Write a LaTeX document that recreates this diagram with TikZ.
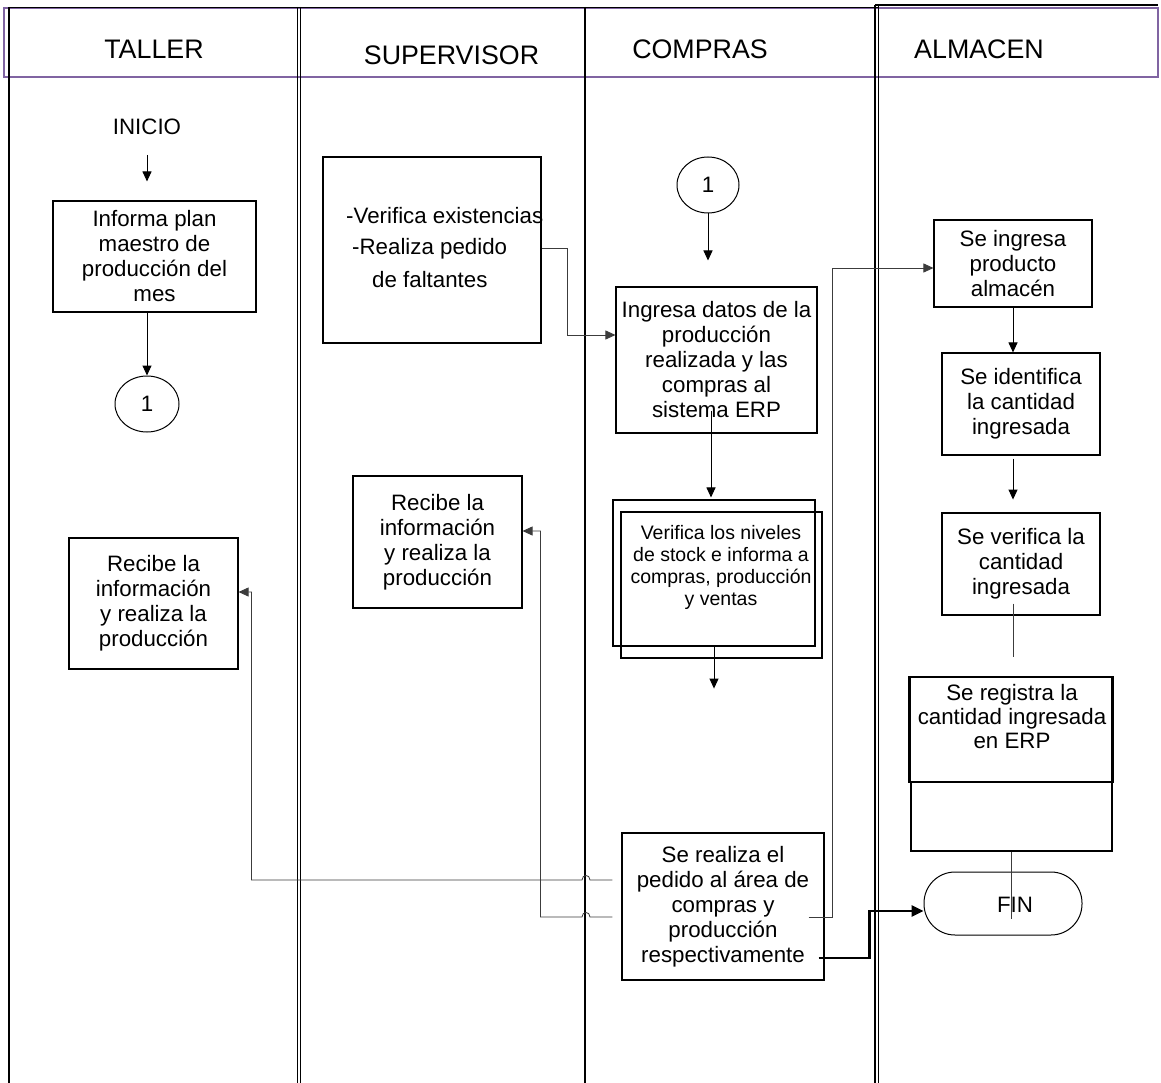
\documentclass[tikz,border=0pt]{standalone}
\usepackage{fontspec}
\setmainfont{Liberation Sans}
\usetikzlibrary{arrows.meta,shapes.geometric}
\definecolor{hdrpurple}{RGB}{128,100,162}
\definecolor{wire}{RGB}{60,60,60}

\begin{document}
\begin{tikzpicture}[x=1pt,y=-1pt,
  txt/.style={font=\fontsize{22.3}{25}\selectfont, align=center, inner sep=0pt},
  smalltxt/.style={font=\fontsize{19.5}{22}\selectfont, align=center, inner sep=0pt},
  hdr/.style={font=\fontsize{26.8}{30}\selectfont, inner sep=0pt},
  proc/.style={draw, line width=1.1pt, rectangle, inner sep=0pt,
               font=\fontsize{22.3}{25}\selectfont, align=center},
  conn/.style={draw, ellipse, line width=1pt, inner sep=0pt,
               font=\fontsize{22.3}{25}\selectfont},
  arr/.style={line width=1pt, -{Triangle[length=10pt,width=9pt]}},
  wirearr/.style={draw=wire, line width=0.8pt, -{Triangle[length=10pt,width=9pt]}},
  wire/.style={draw=wire, line width=0.8pt},
  lane/.style={line width=1.4pt},
]
\useasboundingbox (0,0) rectangle (1161,1083);
\fill[white] (0,0) rectangle (1161,1083);

% ---- swimlane frame ----
\draw[hdrpurple, line width=1.3pt] (4,8) rectangle (1158,77);
\draw[line width=1.2pt] (9,7.5) -- (878,7.5);
\draw[line width=2pt] (875,5) -- (1158,5);
\draw[lane] (9,7) -- (9,1083);
\draw[line width=0.9pt] (297,7) -- (297,1083);
\draw[line width=0.9pt] (300,7) -- (300,1083);
\draw[lane] (585,7) -- (585,1083);
\draw[lane] (875,5) -- (875,1083);
\draw[lane] (878.5,5) -- (878.5,1083);

% ---- lane titles ----
\node[hdr] (hTaller) at (154,49) {TALLER};
\node[hdr] (hSuper) at (451.5,55) {SUPERVISOR};
\node[hdr] (hCompras) at (700,49) {COMPRAS};
\node[hdr] (hAlmacen) at (979,49) {ALMACEN};

% ---- TALLER ----
\node[txt] (inicio) at (147,127) {INICIO};
\coordinate (inicioOut) at (147,155);
\node[proc, minimum width=203pt, minimum height=111pt] (informa) at (154.5,256.5)
  {Informa plan\\maestro de\\producción del\\mes};
\node[conn, minimum width=64pt, minimum height=56pt] (c1a) at (147,404) {1};
\node[proc, minimum width=169pt, minimum height=131pt] (recT) at (153.5,603.5)
  {Recibe la\\información\\y realiza la\\producción};

% ---- SUPERVISOR ----
\node[draw, line width=1.1pt, minimum width=218pt, minimum height=186pt, inner sep=0pt] (verif) at (432,250) {};
\node[txt, anchor=west] (verifA) at (346,216) {-Verifica existencias};
\node[txt, anchor=west] (verifB) at (352,249) {-Realiza pedido};
\node[txt, anchor=west] (verifC) at (372,280) {de faltantes};
\node[proc, minimum width=169pt, minimum height=132pt] (recS) at (437.5,542)
  {Recibe la\\información\\y realiza la\\producción};

% ---- COMPRAS ----
\node[conn, minimum width=62pt, minimum height=56pt] (c1b) at (708,185) {1};
\node[proc, minimum width=201pt, minimum height=146pt] (ingresa) at (716.5,360)
  {Ingresa datos de la\\producción\\realizada y las\\compras al\\sistema ERP};
\node[draw, line width=1.1pt, minimum width=202pt, minimum height=146pt, inner sep=0pt] (vb1) at (714,573) {};
\node[draw, line width=1.1pt, minimum width=201pt, minimum height=146pt, inner sep=0pt] (vb2) at (721.5,585) {};
\node[smalltxt] (vbT) at (721,567)
  {Verifica los niveles\\de stock e informa a\\compras, producción\\y ventas};
\node[proc, minimum width=202pt, minimum height=147pt] (pedido) at (723,906.5)
  {Se realiza el\\pedido al área de\\compras y\\producción\\respectivamente};

% ---- ALMACEN ----
\node[proc, minimum width=158pt, minimum height=87pt] (ingProd) at (1013,263.5)
  {Se ingresa\\producto\\almacén};
\node[proc, minimum width=158pt, minimum height=102pt] (ident) at (1021,404)
  {Se identifica\\la cantidad\\ingresada};
\node[proc, minimum width=158pt, minimum height=102pt] (verCant) at (1021,564)
  {Se verifica la\\cantidad\\ingresada};
\node[draw, line width=2.8pt, minimum width=203pt, minimum height=105pt, inner sep=0pt] (reg) at (1011,729.5) {};
\node[draw, line width=2pt, minimum width=201pt, minimum height=69pt, inner sep=0pt] (regB) at (1011.5,816.5) {};
\node[txt, font=\fontsize{22.3}{24}\selectfont] (regT) at (1012,717)
  {Se registra la\\cantidad ingresada\\en ERP};
\node[draw, line width=1pt, rounded corners=31pt, minimum width=158pt, minimum height=63pt, inner sep=0pt] (fin) at (1003,903.5) {};
\node[txt] (finT) at (1015,905) {FIN};

% ---- connectors ----
\draw[arr] (inicioOut) -- ([xshift=-7.5pt,yshift=19pt]informa.north);
\draw[arr] (informa.south -| c1a) -- (c1a.north);

\draw[wirearr] ([yshift=2pt]verif.east) -| ([xshift=-48pt,yshift=25pt]ingresa.west)
  -- ([yshift=25pt]ingresa.west);

\draw[arr] (c1b.south) -- ++(0,47);
\draw[arr] ([xshift=-5.5pt,yshift=23pt]ingresa.south) -- ([xshift=-3pt,yshift=2pt]vb1.north);
\draw[arr] (vb1.south) -- ++(0,42);

% from the request box back to both production boxes (hopping the lane line)
\draw[wirearr] ([xshift=-9pt,yshift=26.5pt]pedido.west) -- (590,880)
  .. controls (590,874) and (582,874) .. (582,880)
  -| ([xshift=13pt,yshift=11.5pt]recT.east) -- ([yshift=11.5pt]recT.east);
\draw[wirearr] ([xshift=-9pt,yshift=-10.5pt]pedido.west) -- (590,917)
  .. controls (590,911) and (582,911) .. (582,917)
  -| ([xshift=18pt,yshift=11pt]recS.east) -- ([yshift=11pt]recS.east);

\draw[wirearr] ([xshift=-16pt,yshift=-10.5pt]pedido.east) -- ++(24,0)
  |- ([yshift=-4.5pt]ingProd.west);

\draw[line width=2.6pt, -{Triangle[length=12pt,width=11pt]}]
  ([xshift=-6pt,yshift=-51.5pt]pedido.east) -- ++(51,0) |- ([yshift=-7.5pt]fin.west);

\draw[arr] (ingProd.south) -- (ingProd.south |- ident.north);
\draw[arr] ([xshift=-8pt,yshift=-3pt]ident.south) -- ++(0,41);
\draw[wire] ([xshift=-8pt,yshift=12pt]verCant.south) -- ++(0,53);
\draw[wire] (regB.south) -- ++(0,67);
\end{tikzpicture}
\end{document}
